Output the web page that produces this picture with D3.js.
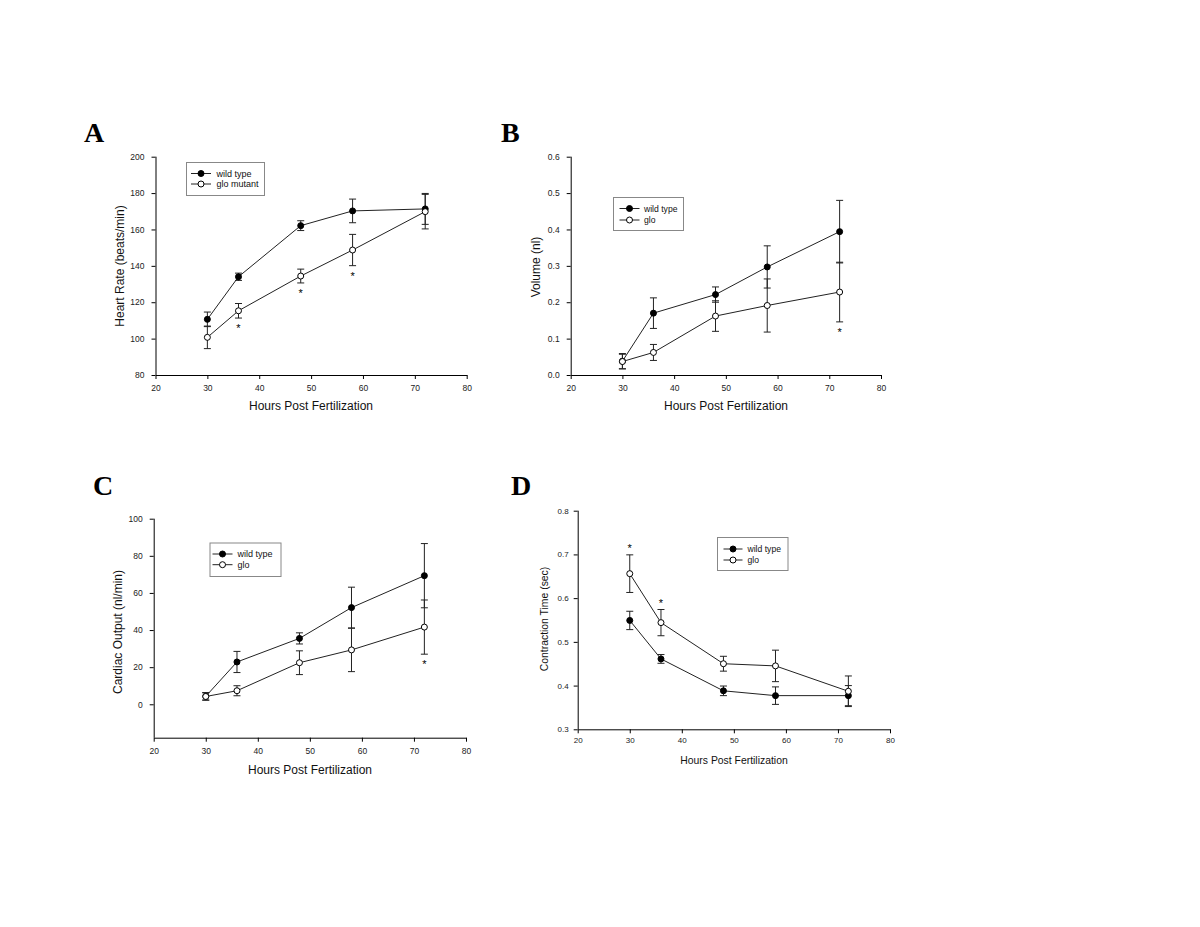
<!DOCTYPE html>
<html>
<head>
<meta charset="utf-8">
<script src="https://cdn.jsdelivr.net/npm/d3@7"></script>
<style>
  html, body { margin: 0; padding: 0; background: #fff; }
  svg { display: block; }
  text { font-family: "Liberation Sans", Arial, sans-serif; fill: #111; }
</style>
</head>
<body>
<svg id="chart" width="1200" height="927"></svg>
<script>
// ---------------- DATA ----------------
const hours = [30, 36, 48, 58, 72];
const xTicks = [20, 30, 40, 50, 60, 70, 80];
const seriesNames = ["wild type", "glo mutant", "glo"];

// A: Heart rate
const hrWild = [110.6, 134.0, 162.1, 170.2, 171.3];
const hrWildErr = [4.0, 2.0, 2.7, 6.5, 8.5];
const hrGlo = [100.7, 115.3, 134.4, 148.7, 169.8];
const hrGloErr = [6.2, 4.0, 3.8, 8.6, 9.5];
const hrStars = [36, 48, 58];
const hrTicks = [80, 100, 120, 140, 160, 180, 200];

// B: Volume
const volWild = [0.038, 0.170, 0.221, 0.297, 0.394];
const volWildErr = [0.021, 0.042, 0.021, 0.058, 0.086];
const volGlo = [0.037, 0.062, 0.162, 0.191, 0.228];
const volGloErr = [0.020, 0.022, 0.042, 0.073, 0.082];
const volStars = [72];
const volTicks = [0.0, 0.1, 0.2, 0.3, 0.4, 0.5, 0.6];

// C: Cardiac output
const coWild = [4.3, 22.8, 35.5, 52.1, 69.3];
const coWildErr = [2.0, 5.7, 3.0, 11.0, 17.3];
const coGlo = [4.2, 7.3, 22.4, 29.3, 41.6];
const coGloErr = [2.0, 2.7, 6.4, 11.7, 14.6];
const coStars = [72];
const coTicks = [0, 20, 40, 60, 80, 100];

// D: Contraction time
const ctWild = [0.549, 0.461, 0.388, 0.377, 0.377];
const ctWildErr = [0.021, 0.010, 0.011, 0.020, 0.023];
const ctGlo = [0.656, 0.544, 0.450, 0.445, 0.387];
const ctGloErr = [0.043, 0.030, 0.017, 0.036, 0.035];
const ctStars = [30, 36];
const ctTicks = [0.3, 0.4, 0.5, 0.6, 0.7, 0.8];

// ---------------- DRAW ----------------
const svg = d3.select("#chart");
const FONT = '"Liberation Sans", Arial, sans-serif';

function panel(cfg) {
  const g = svg.append("g");
  const x = d3.scaleLinear().domain([20, 80]).range([cfg.x0, cfg.x1]);
  const y = d3.scaleLinear().domain(cfg.yDomain).range([cfg.y0, cfg.y1]);

  // panel letter
  g.append("text").attr("x", cfg.letterX).attr("y", cfg.letterY)
    .style("font-family", '"Liberation Serif", "Times New Roman", serif')
    .style("font-weight", "bold").style("font-size", "28px").style("fill", "#000")
    .text(cfg.letter);

  // axes
  const xa = g.append("g").attr("transform", `translate(0,${cfg.y0})`)
    .call(d3.axisBottom(x).tickValues(xTicks).tickSize(4).tickSizeOuter(0).tickPadding(cfg.xPad).tickFormat(d3.format("d")));
  const ya = g.append("g").attr("transform", `translate(${cfg.x0},0)`)
    .call(d3.axisLeft(y).tickValues(cfg.yTicks).tickSize(4).tickSizeOuter(0).tickPadding(cfg.yPad).tickFormat(cfg.fmt));
  [xa, ya].forEach(a => {
    a.selectAll("path,line").attr("stroke", "#000").attr("stroke-width", 1);
    a.selectAll("text").style("font-family", FONT).style("font-size", cfg.tickFont + "px").style("fill", "#222");
  });
  // the y axis domain extends to the x axis
  ya.select(".domain").attr("d", `M0.5,${cfg.y0}V${cfg.y1}`);

  // axis titles
  g.append("text").attr("x", cfg.xTitleX).attr("y", cfg.xTitleY).attr("text-anchor", "middle")
    .style("font-size", cfg.titleFont + "px").text("Hours Post Fertilization");
  g.append("text").attr("transform", `translate(${cfg.yTitleX},${cfg.yTitleY}) rotate(-90)`)
    .attr("text-anchor", "middle").attr("dy", "0.35em")
    .style("font-size", cfg.titleFont + "px").text(cfg.yTitle);

  const line = d3.line().x(d => x(d.h)).y(d => y(d.v));
  const series = [
    { vals: cfg.wild, errs: cfg.wildErr, fill: "#000" },
    { vals: cfg.glo, errs: cfg.gloErr, fill: "#fff" }
  ];
  const cap = 3.5;
  series.forEach(s => {
    const pts = hours.map((h, i) => ({ h, v: s.vals[i], e: s.errs[i] }));
    const eb = g.append("g").attr("stroke", "#222").attr("stroke-width", 1);
    pts.forEach(p => {
      eb.append("line").attr("x1", x(p.h)).attr("x2", x(p.h)).attr("y1", y(p.v - p.e)).attr("y2", y(p.v + p.e));
      eb.append("line").attr("x1", x(p.h) - cap).attr("x2", x(p.h) + cap).attr("y1", y(p.v + p.e)).attr("y2", y(p.v + p.e));
      eb.append("line").attr("x1", x(p.h) - cap).attr("x2", x(p.h) + cap).attr("y1", y(p.v - p.e)).attr("y2", y(p.v - p.e));
    });
    s.pts = pts;
  });
  series.forEach(s => {
    g.append("path").datum(s.pts).attr("d", line).attr("fill", "none").attr("stroke", "#222").attr("stroke-width", 1);
  });
  series.forEach(s => {
    g.selectAll(null).data(s.pts).enter().append("circle")
      .attr("cx", d => x(d.h)).attr("cy", d => y(d.v)).attr("r", 3)
      .attr("fill", s.fill).attr("stroke", "#000").attr("stroke-width", 1);
  });

  // significance stars (relative to glo error bars)
  cfg.stars.forEach(h => {
    const i = hours.indexOf(h);
    let cy;
    if (cfg.starAbove) cy = y(cfg.glo[i] + cfg.gloErr[i]) - 9;
    else cy = y(cfg.glo[i] - cfg.gloErr[i]) + 8;
    g.append("text").attr("x", x(h)).attr("y", cy + 6).attr("text-anchor", "middle")
      .style("font-size", "11px").style("fill", "#000").text("*");
  });

  // legend
  const L = cfg.legend;
  g.append("rect").attr("x", L.x + 0.5).attr("y", L.y + 0.5).attr("width", L.w).attr("height", L.h)
    .attr("fill", "#fff").attr("stroke", "#888").attr("stroke-width", 1);
  [[cfg.names[0], "#000", L.row1], [cfg.names[1], "#fff", L.row2]].forEach(([name, fill, ry]) => {
    g.append("line").attr("x1", L.lx1).attr("x2", L.lx2).attr("y1", ry).attr("y2", ry)
      .attr("stroke", "#222").attr("stroke-width", 1);
    g.append("circle").attr("cx", (L.lx1 + L.lx2) / 2).attr("cy", ry).attr("r", 3)
      .attr("fill", fill).attr("stroke", "#000");
    g.append("text").attr("x", L.tx).attr("y", ry).attr("dy", "0.35em")
      .style("font-size", L.font + "px").text(name);
  });
}

panel({
  letter: "A", letterX: 84, letterY: 142,
  x0: 155.5, x1: 466.7, y0: 375, y1: 156.7, yDomain: [80, 200], yTicks: hrTicks, fmt: d3.format("d"),
  tickFont: 8.5, xPad: 6, yPad: 7, titleFont: 12,
  xTitleX: 311, xTitleY: 410, yTitleX: 119.5, yTitleY: 266, yTitle: "Heart Rate (beats/min)",
  wild: hrWild, wildErr: hrWildErr, glo: hrGlo, gloErr: hrGloErr, stars: hrStars, starAbove: false,
  names: [seriesNames[0], seriesNames[1]],
  legend: { x: 186, y: 162, w: 78, h: 33, row1: 173.5, row2: 184, lx1: 191, lx2: 211, tx: 216.5, font: 9 }
});

panel({
  letter: "B", letterX: 501, letterY: 142,
  x0: 570.7, x1: 881, y0: 375, y1: 156.7, yDomain: [0, 0.6], yTicks: volTicks, fmt: d3.format(".1f"),
  tickFont: 8.5, xPad: 6, yPad: 7, titleFont: 12,
  xTitleX: 726, xTitleY: 410, yTitleX: 536, yTitleY: 267, yTitle: "Volume (nl)",
  wild: volWild, wildErr: volWildErr, glo: volGlo, gloErr: volGloErr, stars: volStars, starAbove: false,
  names: [seriesNames[0], seriesNames[2]],
  legend: { x: 613, y: 197, w: 70, h: 33, row1: 208.5, row2: 220, lx1: 619.5, lx2: 639.5, tx: 644, font: 8.6 }
});

panel({
  letter: "C", letterX: 93, letterY: 495,
  x0: 153.7, x1: 466, y0: 737.7, y1: 518.7, yDomain: [-18, 100], yTicks: coTicks, fmt: d3.format("d"),
  tickFont: 8.5, xPad: 6, yPad: 7, titleFont: 12,
  xTitleX: 310, xTitleY: 774, yTitleX: 118, yTitleY: 632, yTitle: "Cardiac Output (nl/min)",
  wild: coWild, wildErr: coWildErr, glo: coGlo, gloErr: coGloErr, stars: coStars, starAbove: false,
  names: [seriesNames[0], seriesNames[2]],
  legend: { x: 209.5, y: 542.5, w: 71, h: 33.5, row1: 554, row2: 564.7, lx1: 212.5, lx2: 232.5, tx: 237.5, font: 9 }
});

panel({
  letter: "D", letterX: 511, letterY: 495,
  x0: 577.7, x1: 890, y0: 729.3, y1: 510.7, yDomain: [0.3, 0.8], yTicks: ctTicks, fmt: d3.format(".1f"),
  tickFont: 8, xPad: 4.5, yPad: 5, titleFont: 10.4,
  xTitleX: 734, xTitleY: 764, yTitleX: 544.5, yTitleY: 619, yTitle: "Contraction Time (sec)",
  wild: ctWild, wildErr: ctWildErr, glo: ctGlo, gloErr: ctGloErr, stars: ctStars, starAbove: true,
  names: [seriesNames[0], seriesNames[2]],
  legend: { x: 717, y: 537, w: 70.5, h: 33, row1: 549, row2: 560, lx1: 723.5, lx2: 742.5, tx: 747.5, font: 8.6 }
});
</script>
</body>
</html>
